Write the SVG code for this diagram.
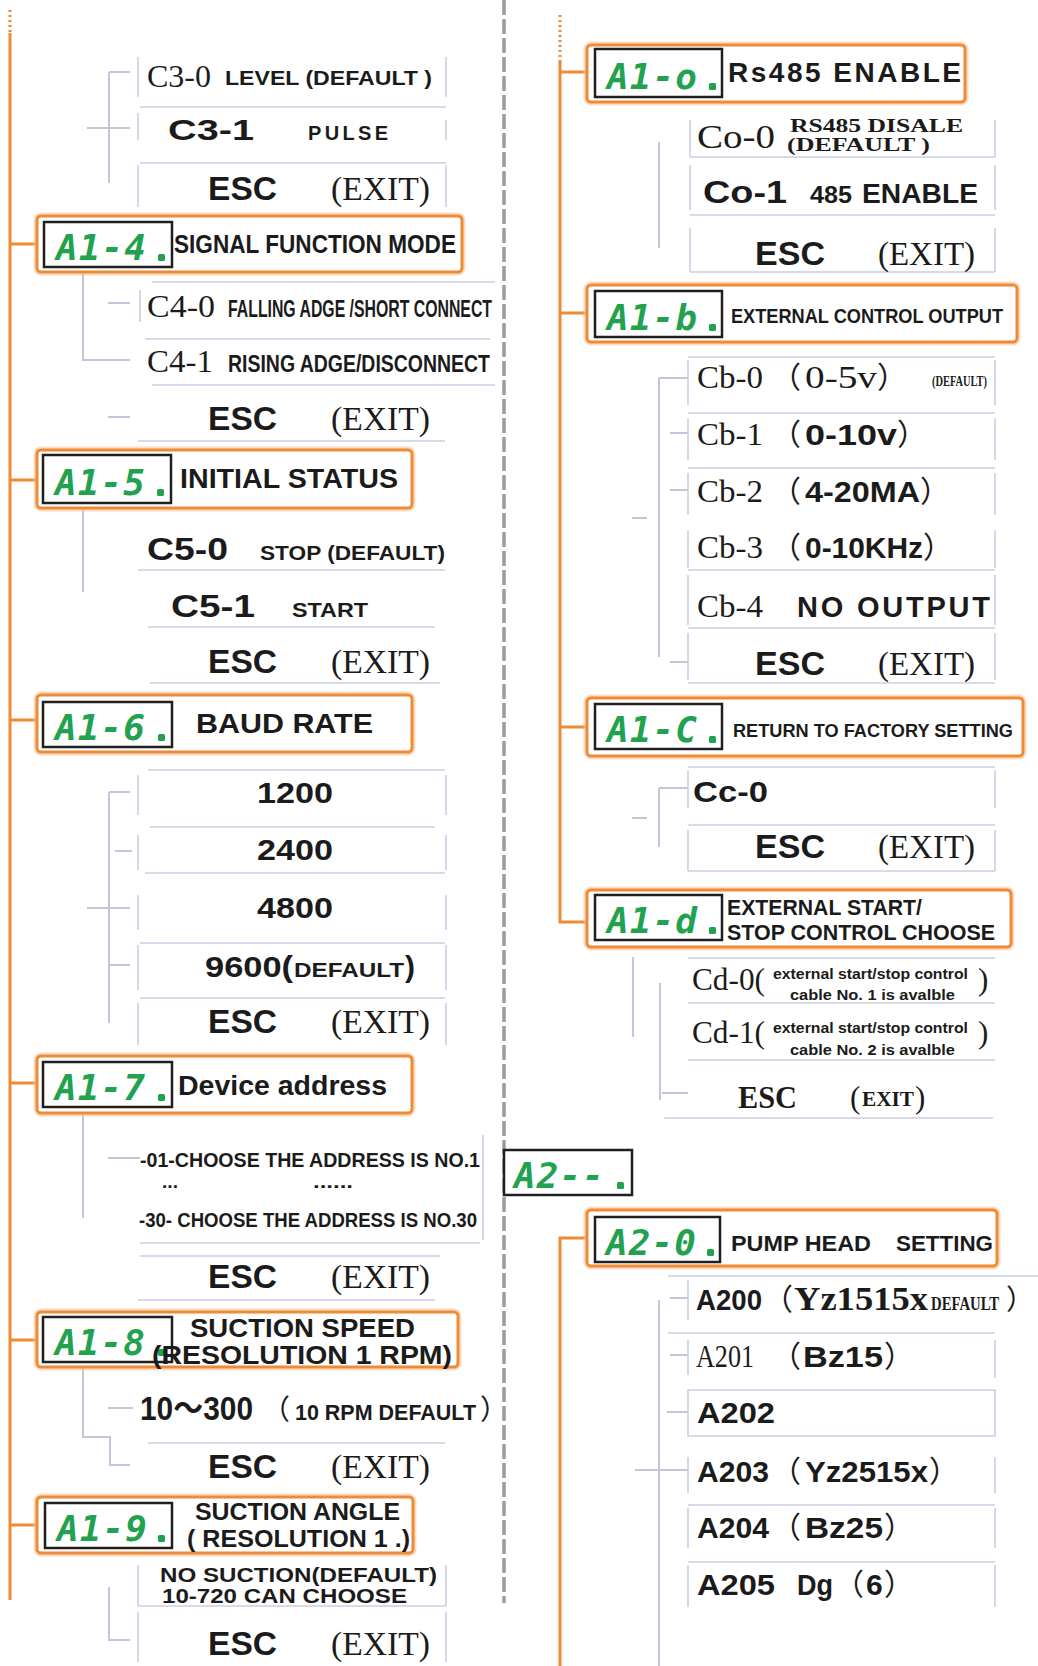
<svg xmlns="http://www.w3.org/2000/svg" width="1038" height="1666" viewBox="0 0 1038 1666">
<style>
.bg{fill:#ffffff}
.trunk{stroke:#ef8a35;stroke-width:3;fill:none}
.dot{stroke:#ef8a35;stroke-width:3;fill:none;stroke-dasharray:2 3}
.div{stroke:#9c9c9c;stroke-width:3.5;fill:none;stroke-dasharray:15 4}
.br{stroke:#c4c5da;stroke-width:2;fill:none}
.row{stroke:#cdcee2;stroke-width:1.6;fill:none}
.glow{fill:none;stroke:#f7c79c;stroke-width:7;stroke-opacity:.6}
.obox{fill:#ffffff;stroke:#ef8a35;stroke-width:3}
.seg{fill:#ffffff;stroke:#1f1f1f;stroke-width:2.5}
.led{fill:#22a24f;font-family:"DejaVu Sans Mono","Liberation Mono",monospace;font-weight:bold;font-style:italic;font-size:36px}
.ledd{fill:#22a24f}
.sb{fill:#1b1b1b;font-family:"Liberation Sans",Arial,"Noto Sans CJK SC",sans-serif;font-weight:bold}
.sf{fill:#1b1b1b;font-family:"Liberation Serif","Times New Roman","Noto Sans CJK SC",serif}
.cjk{fill:#1b1b1b;font-family:"Noto Sans CJK SC",sans-serif}
</style>
<rect class="bg" x="0" y="0" width="1038" height="1666"/>

<g id="connectors">
  <line class="div" x1="504" y1="0" x2="504" y2="1603"/>
  <line class="dot" x1="10" y1="10" x2="10" y2="33"/>
  <line class="trunk" x1="10" y1="33" x2="10" y2="1600"/>
  <line class="dot" x1="560" y1="15" x2="560" y2="60"/>
  <path class="trunk" d="M560 60 V922 H587"/>
  <path class="trunk" d="M10 244 H37 M10 480 H37 M10 720 H37 M10 1083 H37 M10 1340 H37 M10 1525 H37"/>
  <path class="trunk" d="M560 72 H587 M560 313 H587 M560 727 H587"/>
  <path class="trunk" d="M587 1238 H560 V1666"/>
  <path class="br" d="M109 72 V183 M109 72 H130 M87 128 H130"/>
  <path class="br" d="M83 273 V360 H130 M108 303 H130 M108 417 H130"/>
  <path class="br" d="M83 508 V592"/>
  <path class="br" d="M109 792 V1023 M109 792 H130 M115 851 H132 M87 908 H130 M109 965 H130"/>
  <path class="br" d="M83 1113 V1218 M108 1158 H140"/>
  <path class="br" d="M83 1367 V1437 H110 V1465 H130 M108 1408 H133"/>
  <path class="br" d="M109 1587 V1640 H130"/>
  <path class="br" d="M659 142 V248"/>
  <path class="br" d="M659 378 V657 M659 378 H688 M670 433 H688 M670 490 H688 M670 662 H688 M632 518 H647"/>
  <path class="br" d="M659 788 V847 M659 788 H688 M632 818 H647"/>
  <path class="br" d="M633 957 V1037 M660 983 V1100 M662 1093 H688"/>
  <path class="br" d="M659 1300 V1666 M670 1298 H688 M670 1355 H688 M667 1412 H688 M635 1470 H688"/>
</g>

<!-- LEFT COLUMN -->
<g id="opt-c3">
  <path class="row" d="M138 57 V97 M446 57 V97 M140 107 H446 M138 113 V140 M446 120 V140 M140 163 H446 M138 165 V207 M446 165 V207"/>
  <text class="sf" x="147" y="87" font-size="31" textLength="64" lengthAdjust="spacingAndGlyphs">C3-0</text>
  <text class="sb" x="225" y="85" font-size="21" textLength="207" lengthAdjust="spacingAndGlyphs">LEVEL (DEFAULT )</text>
  <text class="sb" x="168" y="140" font-size="30" textLength="86" lengthAdjust="spacingAndGlyphs">C3-1</text>
  <text class="sb" x="308" y="140" font-size="20" textLength="80" lengthAdjust="spacing">PULSE</text>
  <text class="sb" x="208" y="200" font-size="34" textLength="69" lengthAdjust="spacingAndGlyphs">ESC</text>
  <text class="sf" x="331" y="200" font-size="33" textLength="99" lengthAdjust="spacingAndGlyphs">(EXIT)</text>
</g>

<g id="node-a1-4">
  <rect class="glow" x="37" y="216" width="425" height="56" rx="4"/>
  <rect class="obox" x="37" y="216" width="425" height="56" rx="4"/>
  <rect class="seg" x="44" y="222" width="128" height="45"/>
  <text class="led" x="56" y="260" textLength="90" lengthAdjust="spacing">A1-4</text>
  <rect class="ledd" x="158" y="254" width="7" height="7" rx="1.5"/>
  <text class="sb" x="174" y="253" font-size="25" textLength="282" lengthAdjust="spacingAndGlyphs">SIGNAL FUNCTION MODE</text>
</g>

<g id="opt-c4">
  <path class="row" d="M152 282 H495 M140 290 V322 M145 339 H490 M152 385 H495 M138 441 H445"/>
  <text class="sf" x="147" y="317" font-size="31" textLength="68" lengthAdjust="spacingAndGlyphs">C4-0</text>
  <text class="sb" x="228" y="317" font-size="24" textLength="264" lengthAdjust="spacingAndGlyphs">FALLING ADGE /SHORT CONNECT</text>
  <text class="sf" x="147" y="372" font-size="31" textLength="66" lengthAdjust="spacingAndGlyphs">C4-1</text>
  <text class="sb" x="228" y="372" font-size="24" textLength="262" lengthAdjust="spacingAndGlyphs">RISING ADGE/DISCONNECT</text>
  <text class="sb" x="208" y="430" font-size="34" textLength="69" lengthAdjust="spacingAndGlyphs">ESC</text>
  <text class="sf" x="331" y="430" font-size="33" textLength="99" lengthAdjust="spacingAndGlyphs">(EXIT)</text>
</g>

<g id="node-a1-5">
  <rect class="glow" x="37" y="450" width="375" height="58" rx="4"/>
  <rect class="obox" x="37" y="450" width="375" height="58" rx="4"/>
  <rect class="seg" x="43" y="455" width="128" height="48"/>
  <text class="led" x="55" y="495" textLength="90" lengthAdjust="spacing">A1-5</text>
  <rect class="ledd" x="157" y="489" width="7" height="7" rx="1.5"/>
  <text class="sb" x="180" y="488" font-size="28" textLength="218" lengthAdjust="spacingAndGlyphs">INITIAL STATUS</text>
</g>

<g id="opt-c5">
  <path class="row" d="M138 570 H445 M148 627 H435 M150 683 H440"/>
  <text class="sb" x="147" y="560" font-size="31" textLength="81" lengthAdjust="spacingAndGlyphs">C5-0</text>
  <text class="sb" x="260" y="560" font-size="21" textLength="185" lengthAdjust="spacingAndGlyphs">STOP (DEFAULT)</text>
  <text class="sb" x="171" y="617" font-size="31" textLength="84" lengthAdjust="spacingAndGlyphs">C5-1</text>
  <text class="sb" x="292" y="617" font-size="21" textLength="76" lengthAdjust="spacingAndGlyphs">START</text>
  <text class="sb" x="208" y="673" font-size="34" textLength="69" lengthAdjust="spacingAndGlyphs">ESC</text>
  <text class="sf" x="331" y="673" font-size="33" textLength="99" lengthAdjust="spacingAndGlyphs">(EXIT)</text>
</g>

<g id="node-a1-6">
  <rect class="glow" x="37" y="695" width="375" height="57" rx="4"/>
  <rect class="obox" x="37" y="695" width="375" height="57" rx="4"/>
  <rect class="seg" x="43" y="702" width="129" height="45"/>
  <text class="led" x="55" y="740" textLength="90" lengthAdjust="spacing">A1-6</text>
  <rect class="ledd" x="158" y="734" width="7" height="7" rx="1.5"/>
  <text class="sb" x="196" y="733" font-size="28" textLength="177" lengthAdjust="spacingAndGlyphs">BAUD RATE</text>
</g>

<g id="opt-baud">
  <path class="row" d="M148 770 H445 M138 775 V815 M446 775 V815 M150 827 H435 M138 835 V870 M446 835 V870 M145 873 H445 M138 895 V930 M446 895 V930 M140 943 H445 M138 945 V990 M446 945 V990 M140 998 H445 M138 1003 V1045 M446 1003 V1045"/>
  <text class="sb" x="257" y="803" font-size="29" textLength="76" lengthAdjust="spacingAndGlyphs">1200</text>
  <text class="sb" x="257" y="860" font-size="29" textLength="76" lengthAdjust="spacingAndGlyphs">2400</text>
  <text class="sb" x="257" y="918" font-size="29" textLength="76" lengthAdjust="spacingAndGlyphs">4800</text>
  <text class="sb" x="205" y="977" font-size="30" textLength="88" lengthAdjust="spacingAndGlyphs">9600(</text>
  <text class="sb" x="294" y="977" font-size="20" textLength="110" lengthAdjust="spacingAndGlyphs">DEFAULT</text>
  <text class="sb" x="405" y="977" font-size="30">)</text>
  <text class="sb" x="208" y="1033" font-size="34" textLength="69" lengthAdjust="spacingAndGlyphs">ESC</text>
  <text class="sf" x="331" y="1033" font-size="33" textLength="99" lengthAdjust="spacingAndGlyphs">(EXIT)</text>
</g>

<g id="node-a1-7">
  <rect class="glow" x="37" y="1056" width="375" height="57" rx="4"/>
  <rect class="obox" x="37" y="1056" width="375" height="57" rx="4"/>
  <rect class="seg" x="43" y="1062" width="129" height="45"/>
  <text class="led" x="55" y="1100" textLength="90" lengthAdjust="spacing">A1-7</text>
  <rect class="ledd" x="158" y="1094" width="7" height="7" rx="1.5"/>
  <text class="sb" x="178" y="1095" font-size="28" textLength="209" lengthAdjust="spacingAndGlyphs">Device address</text>
</g>

<g id="opt-address">
  <path class="row" d="M483 1135 V1240 M140 1243 H480 M140 1256 H440 M138 1300 H435"/>
  <text class="sb" x="140" y="1167" font-size="21" textLength="340" lengthAdjust="spacingAndGlyphs">-01-CHOOSE THE ADDRESS IS NO.1</text>
  <text class="sb" x="162" y="1188" font-size="18" textLength="16" lengthAdjust="spacingAndGlyphs">...</text>
  <text class="sb" x="313" y="1188" font-size="18" textLength="40" lengthAdjust="spacingAndGlyphs">......</text>
  <text class="sb" x="139" y="1227" font-size="21" textLength="338" lengthAdjust="spacingAndGlyphs">-30- CHOOSE THE ADDRESS IS NO.30</text>
  <text class="sb" x="208" y="1288" font-size="34" textLength="69" lengthAdjust="spacingAndGlyphs">ESC</text>
  <text class="sf" x="331" y="1288" font-size="33" textLength="99" lengthAdjust="spacingAndGlyphs">(EXIT)</text>
</g>

<g id="node-a1-8">
  <rect class="glow" x="37" y="1312" width="421" height="55" rx="4"/>
  <rect class="obox" x="37" y="1312" width="421" height="55" rx="4"/>
  <rect class="seg" x="43" y="1317" width="129" height="45"/>
  <text class="led" x="55" y="1355" textLength="90" lengthAdjust="spacing">A1-8</text>
  <rect class="ledd" x="158" y="1349" width="7" height="7" rx="1.5"/>
  <text class="sb" x="190" y="1337" font-size="25" textLength="225" lengthAdjust="spacingAndGlyphs">SUCTION SPEED</text>
  <text class="sb" x="152" y="1364" font-size="25" textLength="300" lengthAdjust="spacingAndGlyphs">(RESOLUTION 1 RPM)</text>
</g>

<g id="opt-speed">
  <path class="row" d="M148 1443 H445"/>
  <text class="sb" x="140" y="1420" font-size="33" textLength="113" lengthAdjust="spacingAndGlyphs">10～300</text>
  <text class="cjk" x="262" y="1420" font-size="28">（</text>
  <text class="sb" x="295" y="1420" font-size="22" textLength="181" lengthAdjust="spacingAndGlyphs">10 RPM DEFAULT</text>
  <text class="cjk" x="480" y="1420" font-size="28">）</text>
  <text class="sb" x="208" y="1478" font-size="34" textLength="69" lengthAdjust="spacingAndGlyphs">ESC</text>
  <text class="sf" x="331" y="1478" font-size="33" textLength="99" lengthAdjust="spacingAndGlyphs">(EXIT)</text>
</g>

<g id="node-a1-9">
  <rect class="glow" x="37" y="1497" width="376" height="56" rx="4"/>
  <rect class="obox" x="37" y="1497" width="376" height="56" rx="4"/>
  <rect class="seg" x="45" y="1503" width="127" height="45"/>
  <text class="led" x="57" y="1541" textLength="90" lengthAdjust="spacing">A1-9</text>
  <rect class="ledd" x="158" y="1535" width="7" height="7" rx="1.5"/>
  <text class="sb" x="195" y="1520" font-size="24" textLength="205" lengthAdjust="spacingAndGlyphs">SUCTION ANGLE</text>
  <text class="sb" x="187" y="1547" font-size="24" textLength="223" lengthAdjust="spacingAndGlyphs">( RESOLUTION 1 .)</text>
</g>

<g id="opt-angle">
  <path class="row" d="M138 1565 V1606 M446 1565 V1606 M138 1606 H446 M138 1612 V1662 M446 1612 V1662"/>
  <text class="sb" x="160" y="1582" font-size="20" textLength="277" lengthAdjust="spacingAndGlyphs">NO SUCTION(DEFAULT)</text>
  <text class="sb" x="162" y="1603" font-size="20" textLength="245" lengthAdjust="spacingAndGlyphs">10-720 CAN CHOOSE</text>
  <text class="sb" x="208" y="1655" font-size="34" textLength="69" lengthAdjust="spacingAndGlyphs">ESC</text>
  <text class="sf" x="331" y="1655" font-size="33" textLength="99" lengthAdjust="spacingAndGlyphs">(EXIT)</text>
</g>

<!-- RIGHT COLUMN -->
<g id="node-a1-o">
  <rect class="glow" x="587" y="45" width="378" height="57" rx="4"/>
  <rect class="obox" x="587" y="45" width="378" height="57" rx="4"/>
  <rect class="seg" x="595" y="49" width="127" height="48"/>
  <text class="led" x="607" y="89" textLength="90" lengthAdjust="spacing">A1-o</text>
  <rect class="ledd" x="709" y="83" width="7" height="7" rx="1.5"/>
  <text class="sb" x="728" y="82" font-size="28" textLength="233" lengthAdjust="spacing">Rs485 ENABLE</text>
</g>

<g id="opt-co">
  <path class="row" d="M690 120 V157 M995 120 V157 M690 157 H995 M690 165 V210 M995 165 V210 M690 215 H995 M690 228 V272 M995 228 V272 M690 272 H995"/>
  <text class="sf" x="697" y="148" font-size="33" textLength="78" lengthAdjust="spacingAndGlyphs">Co-0</text>
  <text class="sf" x="790" y="132" font-size="19" font-weight="bold" textLength="173" lengthAdjust="spacingAndGlyphs">RS485 DISALE</text>
  <text class="sf" x="787" y="151" font-size="19" font-weight="bold" textLength="143" lengthAdjust="spacingAndGlyphs">(DEFAULT )</text>
  <text class="sb" x="703" y="203" font-size="31" textLength="84" lengthAdjust="spacingAndGlyphs">Co-1</text>
  <text class="sb" x="810" y="203" font-size="23" textLength="42" lengthAdjust="spacingAndGlyphs">485</text>
  <text class="sb" x="862" y="203" font-size="27" textLength="116" lengthAdjust="spacingAndGlyphs">ENABLE</text>
  <text class="sb" x="755" y="265" font-size="34" textLength="70" lengthAdjust="spacingAndGlyphs">ESC</text>
  <text class="sf" x="878" y="265" font-size="33" textLength="97" lengthAdjust="spacingAndGlyphs">(EXIT)</text>
</g>

<g id="node-a1-b">
  <rect class="glow" x="587" y="285" width="430" height="57" rx="4"/>
  <rect class="obox" x="587" y="285" width="430" height="57" rx="4"/>
  <rect class="seg" x="595" y="291" width="127" height="46"/>
  <text class="led" x="607" y="330" textLength="90" lengthAdjust="spacing">A1-b</text>
  <rect class="ledd" x="709" y="324" width="7" height="7" rx="1.5"/>
  <text class="sb" x="731" y="323" font-size="20" textLength="272" lengthAdjust="spacingAndGlyphs">EXTERNAL CONTROL OUTPUT</text>
</g>

<g id="opt-cb">
  <path class="row" d="M688 357 H995 M688 360 V405 M995 360 V405 M688 413 H995 M688 418 V460 M995 418 V460 M688 468 H995 M688 473 V515 M995 473 V515 M688 530 V568 M995 530 V568 M688 570 H995 M688 575 V625 M995 575 V625 M688 628 H995 M688 633 V680 M995 633 V680 M688 683 H995"/>
  <text class="sf" x="697" y="388" font-size="31" textLength="66" lengthAdjust="spacingAndGlyphs">Cb-0</text>
  <text class="cjk" x="771" y="388" font-size="30">（</text>
  <text class="sf" x="805" y="388" font-size="31" textLength="72" lengthAdjust="spacingAndGlyphs">0-5v</text>
  <text class="cjk" x="877" y="388" font-size="30">）</text>
  <text class="sf" x="932" y="386" font-size="15" font-weight="bold" textLength="55" lengthAdjust="spacingAndGlyphs">(DEFAULT)</text>
  <text class="sf" x="697" y="445" font-size="31" textLength="66" lengthAdjust="spacingAndGlyphs">Cb-1</text>
  <text class="cjk" x="771" y="445" font-size="30">（</text>
  <text class="sb" x="805" y="445" font-size="30" textLength="92" lengthAdjust="spacingAndGlyphs">0-10v</text>
  <text class="cjk" x="897" y="445" font-size="30">）</text>
  <text class="sf" x="697" y="502" font-size="31" textLength="66" lengthAdjust="spacingAndGlyphs">Cb-2</text>
  <text class="cjk" x="771" y="502" font-size="30">（</text>
  <text class="sb" x="805" y="502" font-size="30" textLength="115" lengthAdjust="spacingAndGlyphs">4-20MA</text>
  <text class="cjk" x="920" y="502" font-size="30">）</text>
  <text class="sf" x="697" y="558" font-size="31" textLength="66" lengthAdjust="spacingAndGlyphs">Cb-3</text>
  <text class="cjk" x="771" y="558" font-size="30">（</text>
  <text class="sb" x="805" y="558" font-size="30" textLength="118" lengthAdjust="spacingAndGlyphs">0-10KHz</text>
  <text class="cjk" x="923" y="558" font-size="30">）</text>
  <text class="sf" x="697" y="617" font-size="31" textLength="66" lengthAdjust="spacingAndGlyphs">Cb-4</text>
  <text class="sb" x="797" y="617" font-size="29" textLength="193" lengthAdjust="spacing">NO OUTPUT</text>
  <text class="sb" x="755" y="675" font-size="34" textLength="70" lengthAdjust="spacingAndGlyphs">ESC</text>
  <text class="sf" x="878" y="675" font-size="33" textLength="97" lengthAdjust="spacingAndGlyphs">(EXIT)</text>
</g>

<g id="node-a1-c">
  <rect class="glow" x="587" y="698" width="436" height="58" rx="4"/>
  <rect class="obox" x="587" y="698" width="436" height="58" rx="4"/>
  <rect class="seg" x="595" y="704" width="127" height="45"/>
  <text class="led" x="607" y="742" textLength="90" lengthAdjust="spacing">A1-C</text>
  <rect class="ledd" x="709" y="736" width="7" height="7" rx="1.5"/>
  <text class="sb" x="733" y="737" font-size="19" textLength="280" lengthAdjust="spacingAndGlyphs">RETURN TO FACTORY SETTING</text>
</g>

<g id="opt-cc">
  <path class="row" d="M688 767 H995 M688 770 V808 M995 770 V808 M688 825 H995 M688 830 V871 M995 830 V871 M688 871 H995"/>
  <text class="sb" x="693" y="802" font-size="30" textLength="75" lengthAdjust="spacingAndGlyphs">Cc-0</text>
  <text class="sb" x="755" y="858" font-size="34" textLength="70" lengthAdjust="spacingAndGlyphs">ESC</text>
  <text class="sf" x="878" y="858" font-size="33" textLength="97" lengthAdjust="spacingAndGlyphs">(EXIT)</text>
</g>

<g id="node-a1-d">
  <rect class="glow" x="587" y="890" width="424" height="57" rx="4"/>
  <rect class="obox" x="587" y="890" width="424" height="57" rx="4"/>
  <rect class="seg" x="595" y="895" width="127" height="45"/>
  <text class="led" x="607" y="933" textLength="90" lengthAdjust="spacing">A1-d</text>
  <rect class="ledd" x="709" y="927" width="7" height="7" rx="1.5"/>
  <text class="sb" x="727" y="915" font-size="22" textLength="195" lengthAdjust="spacingAndGlyphs">EXTERNAL START/</text>
  <text class="sb" x="727" y="940" font-size="22" textLength="268" lengthAdjust="spacingAndGlyphs">STOP CONTROL CHOOSE</text>
</g>

<g id="opt-cd">
  <path class="row" d="M688 958 H995 M688 1003 H995 M688 1060 H995 M664 1118 H993"/>
  <text class="sf" x="692" y="990" font-size="31" textLength="73" lengthAdjust="spacingAndGlyphs">Cd-0(</text>
  <text class="sb" x="773" y="979" font-size="15" textLength="195" lengthAdjust="spacingAndGlyphs">external start/stop control</text>
  <text class="sb" x="790" y="1000" font-size="15" textLength="165" lengthAdjust="spacingAndGlyphs">cable No. 1 is avalble</text>
  <text class="sf" x="978" y="990" font-size="31">)</text>
  <text class="sf" x="692" y="1043" font-size="31" textLength="73" lengthAdjust="spacingAndGlyphs">Cd-1(</text>
  <text class="sb" x="773" y="1033" font-size="15" textLength="195" lengthAdjust="spacingAndGlyphs">external start/stop control</text>
  <text class="sb" x="790" y="1055" font-size="15" textLength="165" lengthAdjust="spacingAndGlyphs">cable No. 2 is avalble</text>
  <text class="sf" x="978" y="1043" font-size="31">)</text>
  <text class="sf" x="738" y="1108" font-size="32" font-weight="bold" textLength="59" lengthAdjust="spacingAndGlyphs">ESC</text>
  <text class="sf" x="850" y="1108" font-size="31">(</text>
  <text class="sf" x="862" y="1106" font-size="20" font-weight="bold" textLength="52" lengthAdjust="spacingAndGlyphs">EXIT</text>
  <text class="sf" x="915" y="1108" font-size="31">)</text>
</g>

<g id="node-a2">
  <rect class="seg" x="504" y="1150" width="128" height="45"/>
  <text class="led" x="514" y="1188" textLength="90" lengthAdjust="spacing">A2--</text>
  <rect class="ledd" x="617" y="1182" width="7" height="7" rx="1.5"/>
</g>

<g id="node-a2-0">
  <rect class="glow" x="587" y="1210" width="410" height="56" rx="4"/>
  <rect class="obox" x="587" y="1210" width="410" height="56" rx="4"/>
  <rect class="seg" x="595" y="1217" width="125" height="45"/>
  <text class="led" x="606" y="1255" textLength="90" lengthAdjust="spacing">A2-0</text>
  <rect class="ledd" x="707" y="1249" width="7" height="7" rx="1.5"/>
  <text class="sb" x="731" y="1251" font-size="22" textLength="140" lengthAdjust="spacingAndGlyphs">PUMP HEAD</text>
  <text class="sb" x="896" y="1251" font-size="22" textLength="97" lengthAdjust="spacingAndGlyphs">SETTING</text>
</g>

<g id="opt-a2">
  <path class="row" d="M668 1276 H1038 M688 1280 V1320 M668 1333 H995 M688 1340 V1375 M995 1340 V1378 M688 1390 H995 V1436 H688 Z M688 1457 V1493 M995 1457 V1493 M688 1505 H995 M688 1508 V1548 M995 1508 V1548 M688 1562 H995 M688 1565 V1607 M995 1565 V1607"/>
  <text class="sb" x="696" y="1310" font-size="30" textLength="66" lengthAdjust="spacingAndGlyphs">A200</text>
  <text class="cjk" x="763" y="1310" font-size="30">（</text>
  <text class="sf" x="794" y="1310" font-size="33" font-weight="bold" textLength="134" lengthAdjust="spacingAndGlyphs">Yz1515x</text>
  <text class="sf" x="931" y="1310" font-size="19" font-weight="bold" textLength="68" lengthAdjust="spacingAndGlyphs">DEFAULT</text>
  <text class="cjk" x="1006" y="1310" font-size="28">）</text>
  <text class="sf" x="696" y="1367" font-size="31" textLength="58" lengthAdjust="spacingAndGlyphs">A201</text>
  <text class="cjk" x="771" y="1367" font-size="30">（</text>
  <text class="sb" x="803" y="1367" font-size="30" textLength="80" lengthAdjust="spacingAndGlyphs">Bz15</text>
  <text class="cjk" x="884" y="1367" font-size="30">）</text>
  <text class="sb" x="697" y="1423" font-size="30" textLength="78" lengthAdjust="spacingAndGlyphs">A202</text>
  <text class="sb" x="697" y="1482" font-size="30" textLength="72" lengthAdjust="spacingAndGlyphs">A203</text>
  <text class="cjk" x="771" y="1482" font-size="30">（</text>
  <text class="sb" x="805" y="1482" font-size="30" textLength="123" lengthAdjust="spacingAndGlyphs">Yz2515x</text>
  <text class="cjk" x="929" y="1482" font-size="30">）</text>
  <text class="sb" x="697" y="1538" font-size="30" textLength="72" lengthAdjust="spacingAndGlyphs">A204</text>
  <text class="cjk" x="771" y="1538" font-size="30">（</text>
  <text class="sb" x="805" y="1538" font-size="30" textLength="78" lengthAdjust="spacingAndGlyphs">Bz25</text>
  <text class="cjk" x="884" y="1538" font-size="30">）</text>
  <text class="sb" x="697" y="1595" font-size="30" textLength="78" lengthAdjust="spacingAndGlyphs">A205</text>
  <text class="sb" x="797" y="1595" font-size="30" textLength="36" lengthAdjust="spacingAndGlyphs">Dg</text>
  <text class="cjk" x="834" y="1595" font-size="30">（</text>
  <text class="sb" x="866" y="1595" font-size="30">6</text>
  <text class="cjk" x="884" y="1595" font-size="30">）</text>
</g>
</svg>
